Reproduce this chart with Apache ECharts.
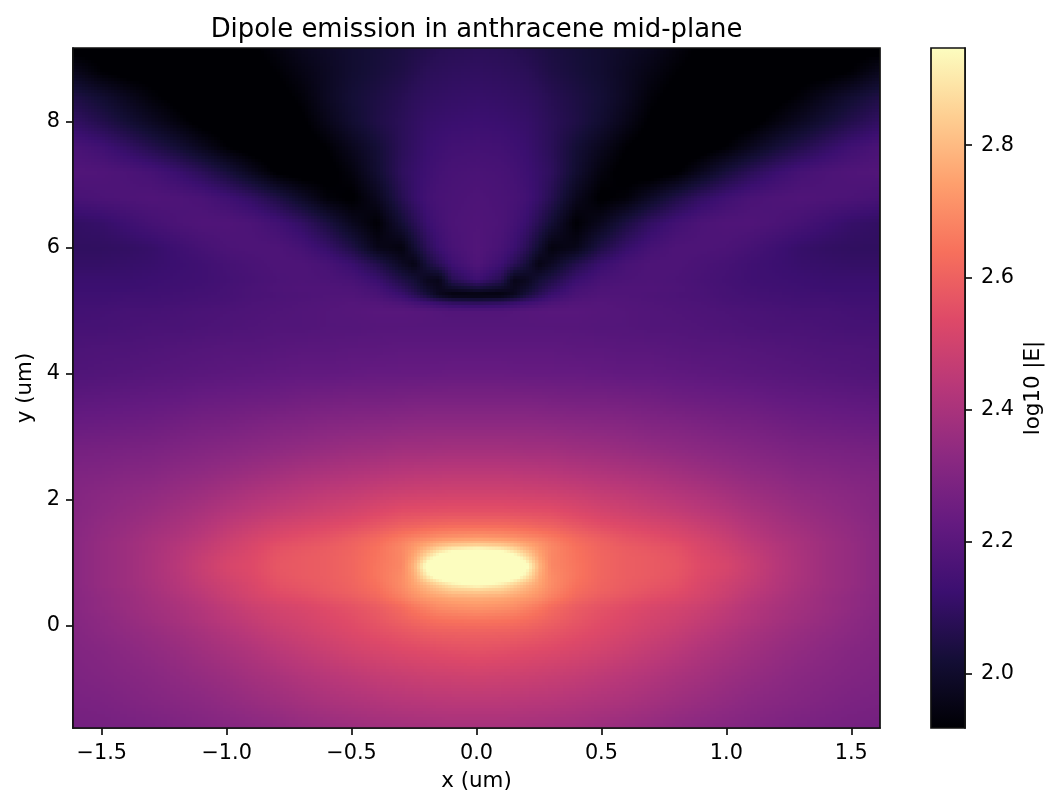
<!DOCTYPE html>
<html>
<head>
<meta charset="utf-8">
<style>html,body{margin:0;padding:0;background:#fff}#c{width:1059px;height:807px}</style>
<script src="https://cdn.jsdelivr.net/npm/echarts@6/dist/echarts.min.js"></script>
</head>
<body>
<div id="c"></div>
<script>
// |x| positions of the sampled columns (the field reads symmetric about x = 0)
const xHalf = [0,0.1,0.15,0.2,0.25,0.3,0.4,0.5,0.6,0.7,0.8,0.9,1.0,1.1,1.2,1.3,1.4,1.5,1.615];
// y positions of the sampled rows, top to bottom
const yLevels = [9.175,8.8,8.4,8,7.6,7.2,6.8,6.4,6,5.75,5.5,5.35,5.25,5.15,5,4.75,4.4,4,3.6,3.2,2.8,2.4,2.1,1.8,1.6,1.4,1.32,1.25,1.1,0.95,0.8,0.65,0.55,0.45,0.3,0.1,-0.1,-0.4,-0.8,-1.2,-1.62];
// log10 |E|, one row per yLevels entry, one value per xHalf entry
const logE = [
[2.08,2.075,2.07,2.06,2.05,2.04,2.025,2.01,1.99,1.97,1.94,1.91,1.90,1.90,1.90,1.90,1.90,1.90,1.90],
[2.095,2.09,2.085,2.08,2.065,2.05,2.03,2.01,1.98,1.95,1.92,1.90,1.90,1.90,1.90,1.90,1.90,1.92,1.97],
[2.11,2.105,2.10,2.095,2.085,2.07,2.045,2.02,1.98,1.93,1.90,1.89,1.89,1.89,1.90,1.93,1.97,2.01,2.05],
[2.125,2.12,2.115,2.11,2.095,2.08,2.05,2.01,1.96,1.91,1.89,1.88,1.89,1.90,1.94,1.98,2.02,2.06,2.10],
[2.145,2.14,2.13,2.12,2.10,2.08,2.02,1.97,1.92,1.89,1.88,1.89,1.92,1.97,2.02,2.06,2.10,2.135,2.16],
[2.16,2.155,2.145,2.13,2.11,2.09,2.01,1.94,1.90,1.89,1.91,1.97,2.03,2.08,2.12,2.15,2.165,2.175,2.18],
[2.17,2.16,2.155,2.14,2.11,2.07,1.97,1.91,1.93,1.99,2.05,2.10,2.135,2.16,2.17,2.175,2.17,2.165,2.155],
[2.175,2.165,2.145,2.12,2.07,2.02,1.92,1.97,2.04,2.10,2.14,2.165,2.175,2.175,2.165,2.15,2.13,2.11,2.10],
[2.18,2.155,2.125,2.08,2.01,1.94,1.96,2.05,2.11,2.15,2.17,2.17,2.165,2.15,2.13,2.11,2.10,2.095,2.095],
[2.175,2.13,2.08,2.03,1.95,1.98,2.06,2.12,2.155,2.17,2.17,2.16,2.15,2.135,2.125,2.115,2.11,2.105,2.105],
[2.13,2.07,1.96,1.97,2.02,2.05,2.12,2.155,2.165,2.17,2.165,2.155,2.145,2.135,2.13,2.125,2.12,2.12,2.12],
[2.02,1.99,1.97,2.0,2.05,2.09,2.15,2.17,2.175,2.175,2.17,2.16,2.15,2.14,2.135,2.13,2.125,2.125,2.125],
[1.93,1.935,1.97,2.03,2.08,2.12,2.16,2.175,2.175,2.17,2.165,2.16,2.15,2.145,2.14,2.135,2.135,2.13,2.13],
[2.07,2.08,2.10,2.12,2.14,2.16,2.18,2.185,2.18,2.175,2.17,2.165,2.155,2.15,2.145,2.14,2.14,2.135,2.135],
[2.18,2.18,2.185,2.19,2.193,2.195,2.195,2.19,2.185,2.18,2.175,2.17,2.165,2.16,2.155,2.15,2.15,2.145,2.14],
[2.19,2.19,2.19,2.19,2.19,2.19,2.19,2.185,2.185,2.18,2.18,2.175,2.17,2.165,2.16,2.16,2.155,2.15,2.15],
[2.21,2.21,2.21,2.21,2.21,2.21,2.205,2.205,2.20,2.20,2.195,2.19,2.19,2.185,2.18,2.175,2.17,2.17,2.165],
[2.235,2.235,2.232,2.23,2.23,2.23,2.23,2.225,2.22,2.22,2.215,2.21,2.205,2.20,2.195,2.19,2.185,2.18,2.175],
[2.28,2.28,2.28,2.28,2.278,2.275,2.27,2.27,2.265,2.26,2.25,2.245,2.24,2.235,2.225,2.22,2.215,2.21,2.205],
[2.33,2.33,2.33,2.33,2.328,2.325,2.32,2.315,2.31,2.30,2.295,2.285,2.275,2.27,2.26,2.25,2.245,2.24,2.235],
[2.385,2.385,2.383,2.38,2.38,2.38,2.37,2.365,2.355,2.345,2.335,2.325,2.315,2.305,2.295,2.285,2.28,2.275,2.27],
[2.45,2.45,2.448,2.445,2.443,2.44,2.43,2.42,2.41,2.40,2.385,2.37,2.355,2.34,2.33,2.315,2.31,2.30,2.295],
[2.50,2.50,2.498,2.495,2.493,2.49,2.48,2.465,2.455,2.44,2.425,2.41,2.39,2.37,2.355,2.34,2.33,2.32,2.305],
[2.56,2.56,2.558,2.555,2.553,2.55,2.53,2.51,2.495,2.48,2.465,2.445,2.425,2.40,2.38,2.36,2.345,2.33,2.31],
[2.62,2.62,2.615,2.61,2.60,2.595,2.57,2.545,2.53,2.515,2.50,2.475,2.45,2.42,2.395,2.375,2.355,2.34,2.315],
[2.73,2.72,2.71,2.695,2.68,2.66,2.62,2.59,2.565,2.55,2.53,2.505,2.475,2.44,2.41,2.39,2.365,2.345,2.32],
[2.81,2.795,2.775,2.745,2.715,2.68,2.63,2.60,2.575,2.56,2.545,2.515,2.485,2.45,2.42,2.395,2.37,2.35,2.32],
[2.90,2.87,2.83,2.78,2.73,2.69,2.64,2.605,2.585,2.57,2.555,2.52,2.49,2.455,2.425,2.395,2.37,2.35,2.32],
[3.1,3.05,2.98,2.88,2.76,2.69,2.645,2.61,2.59,2.58,2.565,2.53,2.505,2.47,2.43,2.40,2.37,2.35,2.32],
[3.3,3.2,3.08,2.98,2.79,2.69,2.65,2.61,2.59,2.58,2.57,2.535,2.515,2.475,2.435,2.40,2.37,2.35,2.32],
[3.12,3.07,3.0,2.91,2.77,2.70,2.65,2.61,2.59,2.58,2.565,2.53,2.505,2.47,2.43,2.40,2.37,2.35,2.32],
[2.95,2.90,2.85,2.80,2.75,2.70,2.64,2.605,2.585,2.57,2.555,2.52,2.49,2.46,2.425,2.395,2.37,2.35,2.32],
[2.84,2.83,2.80,2.77,2.73,2.69,2.63,2.60,2.58,2.56,2.545,2.515,2.485,2.45,2.42,2.39,2.365,2.345,2.318],
[2.77,2.76,2.745,2.73,2.705,2.67,2.615,2.585,2.565,2.545,2.53,2.505,2.475,2.44,2.41,2.385,2.36,2.34,2.316],
[2.72,2.71,2.70,2.68,2.655,2.625,2.585,2.56,2.54,2.52,2.505,2.485,2.455,2.425,2.40,2.38,2.36,2.34,2.315],
[2.65,2.645,2.64,2.63,2.615,2.60,2.57,2.545,2.525,2.505,2.49,2.465,2.44,2.415,2.39,2.37,2.35,2.33,2.31],
[2.60,2.598,2.595,2.59,2.58,2.57,2.55,2.53,2.51,2.49,2.47,2.445,2.42,2.395,2.375,2.355,2.34,2.325,2.305],
[2.556,2.55,2.545,2.54,2.535,2.53,2.515,2.50,2.48,2.46,2.44,2.415,2.395,2.375,2.355,2.34,2.325,2.31,2.30],
[2.495,2.49,2.488,2.485,2.48,2.475,2.465,2.45,2.435,2.42,2.40,2.385,2.365,2.35,2.335,2.32,2.31,2.30,2.29],
[2.44,2.44,2.438,2.435,2.432,2.43,2.42,2.41,2.40,2.385,2.37,2.355,2.34,2.325,2.315,2.305,2.295,2.285,2.28],
[2.39,2.39,2.388,2.385,2.383,2.38,2.375,2.365,2.355,2.345,2.33,2.32,2.31,2.30,2.29,2.28,2.275,2.27,2.265]
];
const xTicks = [-1.5,-1,-0.5,0,0.5,1,1.5];
const yTicks = [0,2,4,6,8];
const cbTicks = [2.0,2.2,2.4,2.6,2.8];
const cbMin = 1.918, cbMax = 2.947;
const magma = ['#000004','#140e36','#3b0f70','#641a80','#8c2981','#b73779','#de4968','#f7705c','#fe9f6d','#fecf92','#fcfdbf'];

const xs = xHalf.slice(1).reverse().map(v => -v).concat(xHalf);
const rows = logE.map(r => r.slice(1).reverse().concat(r));
const nc = xs.length;
const field = [];
rows.forEach((r, i) => r.forEach((v, j) => field.push([xs[j], yLevels[i], v])));

const rgb = magma.map(h => [1,3,5].map(k => parseInt(h.substr(k,2),16)));
function colorOf(v){
  let t = (v - cbMin) / (cbMax - cbMin);
  t = Math.max(0, Math.min(1, t)) * (rgb.length - 1);
  const k = Math.min(rgb.length - 2, Math.floor(t)), f = t - k;
  const a = rgb[k], b = rgb[k+1];
  return 'rgb(' + Math.round(a[0]+(b[0]-a[0])*f) + ',' + Math.round(a[1]+(b[1]-a[1])*f) + ',' + Math.round(a[2]+(b[2]-a[2])*f) + ')';
}
const SX = 3, SY = 3;
function renderCell(params, api){
  const idx = params.dataIndex, i = Math.floor(idx / nc), j = idx % nc;
  if (i >= rows.length - 1 || j >= nc - 1) return null;
  const p0 = api.coord([xs[j], yLevels[i]]), p1 = api.coord([xs[j+1], yLevels[i+1]]);
  const x0 = Math.round(p0[0]), x1 = Math.round(p1[0]), y0 = Math.round(p0[1]), y1 = Math.round(p1[1]);
  const a = rows[i][j], b = rows[i][j+1], c = rows[i+1][j], d = rows[i+1][j+1];
  const children = [];
  for (let py = y0; py < y1; py += SY){
    const h = Math.min(SY, y1 - py), fy = (py + h/2 - y0) / (y1 - y0);
    for (let px = x0; px < x1; px += SX){
      const w = Math.min(SX, x1 - px), fx = (px + w/2 - x0) / (x1 - x0);
      const v = (a*(1-fx)+b*fx)*(1-fy) + (c*(1-fx)+d*fx)*fy;
      children.push({type:'rect', shape:{x:px,y:py,width:w,height:h}, style:{fill:colorOf(v)}});
    }
  }
  return {type:'group', children};
}
function renderBar(params, api){
  const p0 = api.coord([0, cbMax]), p1 = api.coord([1, cbMin]);
  return {type:'rect', shape:{x:p0[0],y:p0[1],width:p1[0]-p0[0],height:p1[1]-p0[1]},
    style:{fill:{type:'linear',x:0,y:0,x2:0,y2:1,colorStops:magma.map((c,k)=>({offset:1-k/(magma.length-1),color:c})).reverse()}}};
}
const F = 'DejaVu Sans', INK = '#000', LINE = '#111';
const minus = s => s.replace('-', '\u2212');
function axisBits(ticks, fmt, margin, pad){
  return {
    axisLine:{show:true,onZero:false,lineStyle:{color:LINE,width:1.7}},
    splitLine:{show:false},
    axisTick:{show:true,length:7,lineStyle:{color:LINE,width:1.7},customValues:ticks},
    axisLabel:{show:true,color:INK,fontFamily:F,fontSize:20.8,margin:margin,formatter:fmt,customValues:ticks,hideOverlap:false,padding:pad}
  };
}
const chart = echarts.init(document.getElementById('c'), null, {renderer:'canvas'});
chart.setOption({
  animation:false,
  backgroundColor:'#fff',
  title:{text:'Dipole emission in anthracene mid-plane',left:471.5,top:12,textAlign:'center',
    textStyle:{fontFamily:F,fontSize:25.9,fontWeight:'normal',color:INK}},
  grid:[
    {left:73,top:48,width:807,height:680,show:true,z:5,backgroundColor:'transparent',borderColor:LINE,borderWidth:1.7},
    {left:931,top:48,width:34,height:680,show:true,z:5,backgroundColor:'transparent',borderColor:LINE,borderWidth:1.7}
  ],
  xAxis:[
    Object.assign({type:'value',gridIndex:0,min:-1.615,max:1.615,name:'x (um)',nameLocation:'middle',nameGap:43,
      nameTextStyle:{fontFamily:F,fontSize:21.4,color:INK}},axisBits(xTicks,v=>minus(v.toFixed(1)),15,0)),
    {type:'value',gridIndex:1,min:0,max:1,show:false}
  ],
  yAxis:[
    Object.assign({type:'value',gridIndex:0,min:-1.619,max:9.175,name:'y (um)',nameLocation:'middle',nameGap:37,
      nameTextStyle:{fontFamily:F,fontSize:21.4,color:INK}},axisBits(yTicks,v=>String(v),13,[14,0,0,0])),
    Object.assign({type:'value',gridIndex:1,position:'right',min:cbMin,max:cbMax,name:'log10 |E|',nameLocation:'middle',nameGap:58,nameRotate:90,
      nameTextStyle:{fontFamily:F,fontSize:21.4,color:INK}},axisBits(cbTicks,v=>v.toFixed(1),16,[14,0,0,0]))
  ],
  series:[
    {type:'custom',xAxisIndex:0,yAxisIndex:0,renderItem:renderCell,data:field,silent:true,progressive:0,clip:true,z:2,encode:{x:0,y:1}},
    {type:'custom',xAxisIndex:1,yAxisIndex:1,renderItem:renderBar,data:[[0,cbMin]],silent:true,z:2}
  ]
});
</script>
</body>
</html>
